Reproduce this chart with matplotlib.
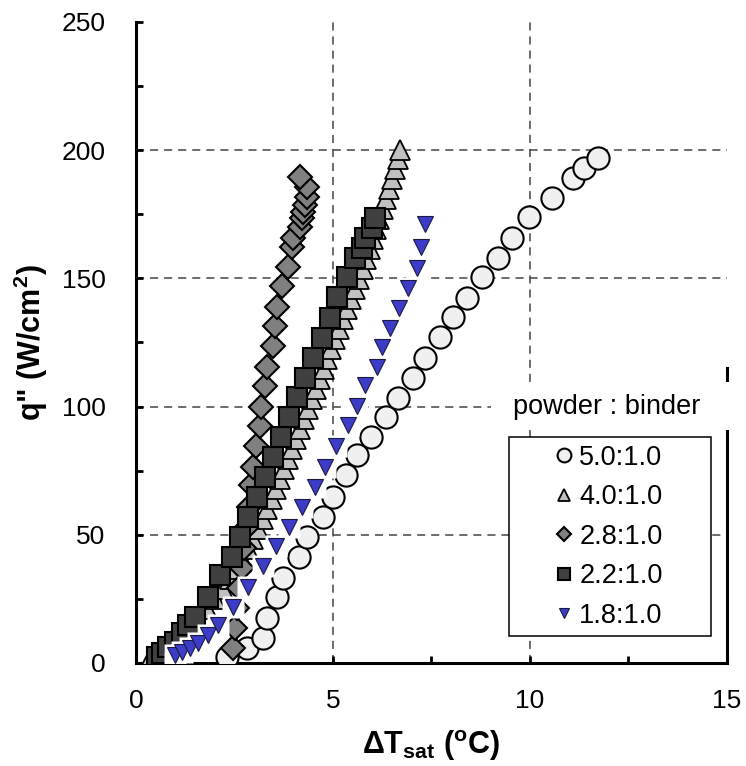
import matplotlib
matplotlib.use("Agg")
import matplotlib.pyplot as plt
from matplotlib.patches import Rectangle

plt.rcParams['font.family'] = ['Liberation Sans', 'DejaVu Sans']
plt.rcParams['mathtext.fontset'] = 'custom'
plt.rcParams['mathtext.rm'] = 'Liberation Sans'
plt.rcParams['mathtext.bf'] = 'Liberation Sans:bold'

# 5.0:1.0
circ_x = [2.31, 2.82, 3.22, 3.32, 3.58, 3.73, 4.14, 4.34, 4.75, 5.00, 5.33, 5.61, 5.96, 6.35,
          6.65, 7.03, 7.34, 7.72, 8.05, 8.40, 8.78, 9.19, 9.54, 9.97, 10.56, 11.09, 11.37, 11.73]
circ_q = [2.3, 5.8, 9.7, 17.5, 25.7, 33.1, 41.3, 49.1, 56.9, 64.7, 73.3, 81.1, 88.1, 95.9,
          103.3, 111.1, 118.9, 127.1, 134.9, 142.3, 150.5, 157.9, 165.7, 173.9, 181.3, 189.1, 193.0, 196.9]

# 4.0:1.0
tri_x = [0.35, 0.75, 1.05, 1.30, 1.55, 1.80, 2.00, 2.20, 2.38, 2.55, 2.70, 2.84, 2.97, 3.10,
         3.22, 3.33, 3.44, 3.55, 3.66, 3.76, 3.86, 3.96, 4.06, 4.16, 4.26, 4.36, 4.46, 4.56,
         4.66, 4.76, 4.86, 4.96, 5.06, 5.16, 5.26, 5.36, 5.46, 5.56, 5.66, 5.76, 5.85, 5.94,
         6.02, 6.10, 6.18, 6.26, 6.34, 6.42, 6.50, 6.58, 6.64, 6.70]
tri_q = [1.5, 5.4, 9.3, 13.2, 17.1, 21.0, 24.9, 28.8, 32.7, 36.6, 40.5, 44.4, 48.3, 52.2,
         56.1, 60.0, 63.9, 67.8, 71.7, 75.6, 79.5, 83.4, 87.3, 91.2, 95.1, 99.0, 102.9, 106.8,
         110.7, 114.6, 118.5, 122.4, 126.3, 130.2, 134.1, 138.0, 141.9, 145.8, 149.7, 153.6, 157.5, 161.4,
         165.3, 169.2, 173.1, 177.0, 180.9, 184.8, 188.7, 192.6, 196.5, 200.0]

# 2.8:1.0
dia_x = [2.45, 2.51, 2.56, 2.62, 2.68, 2.75, 2.80, 2.86, 2.92, 2.97, 3.05, 3.15, 3.17, 3.27,
         3.32, 3.48, 3.53, 3.58, 3.71, 3.86, 3.96, 3.98, 4.16, 4.21, 4.24, 4.29, 4.34, 4.34, 4.16]
dia_q = [5.8, 13.6, 21.5, 29.3, 37.1, 45.0, 52.8, 60.8, 69.4, 76.4, 84.6, 92.4, 99.8, 108.0,
         115.4, 123.6, 131.4, 138.8, 147.0, 154.4, 162.2, 165.7, 170.0, 173.5, 175.8, 178.6, 181.7, 185.6, 189.5]

# 2.2:1.0
sq_x = [0.53, 0.66, 0.81, 0.99, 1.17, 1.32, 1.50, 1.83, 2.13, 2.44, 2.64, 2.84, 3.07, 3.27,
        3.48, 3.68, 3.88, 4.09, 4.29, 4.49, 4.72, 4.92, 5.10, 5.36, 5.56, 5.74, 5.81, 5.99, 6.07]
sq_q = [2.3, 3.9, 6.2, 8.2, 11.7, 14.8, 17.9, 25.7, 34.3, 41.3, 49.1, 56.9, 64.7, 72.5,
        80.3, 88.1, 95.9, 103.7, 111.1, 118.9, 126.7, 134.5, 142.7, 150.5, 157.9, 161.8, 165.7, 169.6, 173.5]

# 1.8:1.0
blue_x = [0.99, 1.17, 1.37, 1.57, 1.83, 2.08, 2.46, 2.84, 3.22, 3.55, 3.88, 4.21, 4.54,
          4.80, 5.08, 5.38, 5.61, 5.81, 6.12, 6.24, 6.45, 6.68, 6.90, 7.13, 7.23, 7.34]
blue_q = [3.1, 4.3, 5.8, 7.8, 10.9, 14.8, 21.8, 29.6, 37.8, 45.6, 53.0, 60.8, 68.6,
          76.4, 84.6, 92.8, 100.2, 108.4, 115.4, 123.2, 130.6, 138.4, 146.2, 154.0, 162.2, 171.2]

labels = ['5.0:1.0', '4.0:1.0', '2.8:1.0', '2.2:1.0', '1.8:1.0']
grid_x = [5, 10]
grid_y = [50, 100, 150, 200]

fig = plt.figure(figsize=(7.46, 7.66), dpi=100)
ax = fig.add_axes([0.1823, 0.1345, 0.7922, 0.8368])

for gx in grid_x:
    ax.axvline(gx, color='#444444', lw=1.1, ls=(0, (5.3, 3.9)), zorder=1)
for gy in grid_y:
    ax.axhline(gy, color='#444444', lw=1.1, ls=(0, (5.3, 3.9)), zorder=1)

h1, = ax.plot(circ_x, circ_q, ls='none', marker='o', ms=16, mfc='#f0f0f0', mec='black', mew=1.5,
              label=labels[0], zorder=3)
h2, = ax.plot(tri_x, tri_q, ls='none', marker='^', ms=15, mfc='#c0c0c0', mec='black', mew=1.3,
              label=labels[1], zorder=3.1)
h3, = ax.plot(dia_x, dia_q, ls='none', marker='D', ms=12, mfc='#808080', mec='black', mew=1.5,
              label=labels[2], zorder=3.2)
h4, = ax.plot(sq_x, sq_q, ls='none', marker='s', ms=14.5, mfc='#404040', mec='black', mew=1.5,
              label=labels[3], zorder=3.3)
# white halo behind the blue triangles
ax.plot(blue_x, blue_q, ls='none', marker='s', ms=16, mfc='white', mec='none', zorder=3.4)
h5, = ax.plot(blue_x, blue_q, ls='none', marker='v', ms=11, mfc='#3c3cc8', mec='#1a1a40', mew=0.8,
              label=labels[4], zorder=3.5)

ax.set_xlim(0, 15)
ax.set_ylim(0, 250)
ax.set_xticks([0, 5, 10, 15])
ax.set_xticks([2.5, 7.5, 12.5], minor=True)
ax.set_yticks([0, 50, 100, 150, 200, 250])
ax.set_yticks([25, 75, 125, 175, 225], minor=True)
ax.tick_params(which='both', direction='in', length=5, width=2, labelsize=19, pad=19,
               right=False, top=False)
ax.tick_params(axis='y', pad=22)

for s in ['left', 'bottom', 'right']:
    ax.spines[s].set_linewidth(2.2)
ax.spines['top'].set_visible(False)
ax.spines['right'].set_bounds(0, 115)

ax.set_xlabel('ΔT$_{\\mathbf{sat}}$ ($^{\\mathbf{o}}$C)', fontsize=22, fontweight='bold', labelpad=11)
ax.set_ylabel('q" (W/cm$^{\\mathbf{2}}$)', fontsize=22, fontweight='bold', labelpad=8)

# legend title area and legend frame
ax.add_patch(Rectangle((0.60, 0.3635), 0.415, 0.075, transform=ax.transAxes, facecolor='white',
                       edgecolor='none', zorder=4, clip_on=False))
ax.text(0.797, 0.399, 'powder : binder', transform=ax.transAxes, ha='center', va='center',
        fontsize=19.5, zorder=5)
ax.add_patch(Rectangle((0.631, 0.042), 0.342, 0.3106, transform=ax.transAxes, facecolor='white',
                       edgecolor='black', lw=1.1, zorder=4))
leg = ax.legend(handles=[h1, h2, h3, h4, h5], loc='center', bbox_to_anchor=(0.799, 0.197),
                frameon=False, fontsize=19.5, markerscale=0.62, handlelength=0.8,
                handletextpad=0.15, labelspacing=0.5, borderpad=0.2)
leg.set_zorder(6)

fig.savefig('out.png', dpi=100)
